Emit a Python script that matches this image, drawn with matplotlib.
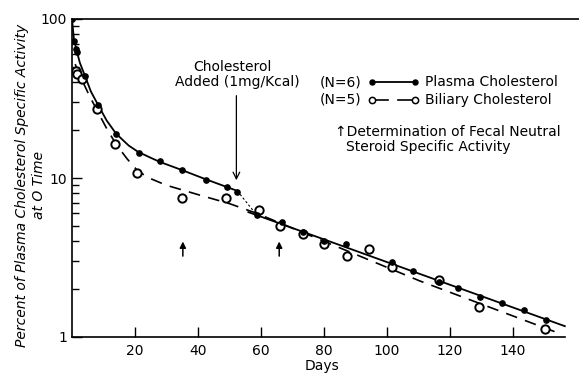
import matplotlib
matplotlib.use("Agg")
import matplotlib.pyplot as plt
import numpy as np

# ---- data ----
plasma_days = [0, 0.6, 1.2, 1.7, 4.1, 8.2, 14, 21.3, 28, 34.8, 42.4, 49.1, 52.5,
               58.8, 66.6, 73.4, 80.1, 86.9, 101.5, 108.4, 116.6, 122.6, 129.5,
               136.7, 143.6, 150.4]
plasma_vals = [100, 73, 65, 62, 44, 28.8, 18.8, 14.4, 12.8, 11.3, 9.7, 8.8, 8.2,
               5.85, 5.3, 4.55, 4.04, 3.83, 2.98, 2.6, 2.23, 2.04, 1.78,
               1.63, 1.48, 1.27]

biliary_days = [1.3, 1.7, 3.1, 7.8, 13.7, 20.7, 35, 48.9, 59.4, 66.2, 73.4, 80,
                87.4, 94.4, 101.5, 116.6, 129.3, 150.2]
biliary_vals = [47, 45, 42, 27.2, 16.4, 10.8, 7.5, 7.45, 6.3, 5.0, 4.43, 3.83,
                3.25, 3.58, 2.74, 2.28, 1.55, 1.12]

# fitted curves
plasma_fit1_days = [0, 0.6, 1.5, 2.5, 4, 6, 8, 11, 14, 18, 21, 25, 28, 35, 42, 49, 52.5]
plasma_fit1_vals = [100, 75, 63, 53, 44.5, 35, 29.5, 23, 19, 16, 14.6, 13.4, 12.6,
                    11.2, 9.9, 8.8, 8.3]
plasma_link_days = [52.5, 58.5]
plasma_link_vals = [8.3, 5.9]
plasma_fit2_days = [56, 156.5]
plasma_fit2_vals = [6.1, 1.17]

biliary_fit_days = [1, 3, 5.5, 8, 11, 14, 17.5, 21, 25, 30, 40.6, 50, 58.6, 80, 110.5, 153.3]
biliary_fit_vals = [52, 42, 33, 26.5, 20.5, 16.3, 13.2, 11, 9.9, 9.0, 7.8, 6.9, 6.0,
                    4.0, 2.25, 1.08]

fecal_arrow_days = [35.2, 65.8]
added_day = 52.2

x_ticks = [20, 40, 60, 80, 100, 120, 140]
y_ticks = [1, 10, 100]
y_ticklabels = ["1", "10", "100"]

plt.rcParams['font.family'] = ['DejaVu Sans']
FS = 10

fig = plt.figure(figsize=(5.79, 3.76), dpi=100)
ax = fig.add_axes([72/579, 1-337/376, 1-72/579, (337-19)/376])
ax.set_yscale('log')
ax.set_xlim(0, 161)
ax.set_ylim(1, 100)

# curves
ax.plot(plasma_fit1_days, plasma_fit1_vals, color='black', lw=1.3)
ax.plot(plasma_link_days, plasma_link_vals, color='black', lw=0.8, ls=(0, (2, 2)))
ax.plot(plasma_fit2_days, plasma_fit2_vals, color='black', lw=1.3)
ax.plot(biliary_fit_days, biliary_fit_vals, color='black', lw=1.2, ls=(0, (7, 5)))

# points
ax.plot(plasma_days, plasma_vals, 'o', color='black', ms=3.8, zorder=4)
ax.plot(biliary_days, biliary_vals, 'o', mfc='white', mec='black', mew=1.4, ms=6, zorder=3)

# arrows
ax.annotate('', xy=(added_day, 9.3), xytext=(added_day, 34.3),
            arrowprops=dict(arrowstyle='->', color='black', lw=0.9, mutation_scale=12))
for d in fecal_arrow_days:
    ax.annotate('', xy=(d, 4.15), xytext=(d, 3.1),
                arrowprops=dict(arrowstyle='-|>', color='black', lw=1.1,
                                mutation_scale=9))

ax.text(51, 50, "Cholesterol", ha='center', va='center', fontsize=FS)
ax.text(52.4, 40, "Added (1mg/Kcal)", ha='center', va='center', fontsize=FS)

# legend (hand drawn)
ax.text(78.7, 40, "(N=6)", ha='left', va='center', fontsize=FS)
ax.plot([95.2, 108.9], [40, 40], '-', color='black', lw=1.3)
ax.plot([95.2, 108.9], [40, 40], 'o', color='black', ms=3.6)
ax.text(112, 40, "Plasma Cholesterol", ha='left', va='center', fontsize=FS)
ax.text(78.7, 31, "(N=5)", ha='left', va='center', fontsize=FS)
ax.plot([95.2, 100.5], [31, 31], '-', color='black', lw=1.2)
ax.plot([103.5, 108.9], [31, 31], '-', color='black', lw=1.2)
ax.plot([95.2, 108.9], [31, 31], 'o', mfc='white', mec='black', mew=1.1, ms=4.5)
ax.text(112, 31, "Biliary Cholesterol", ha='left', va='center', fontsize=FS)
ax.text(83.5, 19.5, "\u2191Determination of Fecal Neutral", ha='left', va='center', fontsize=FS)
ax.text(87, 15.7, "Steroid Specific Activity", ha='left', va='center', fontsize=FS)

# axes style
ax.spines['right'].set_visible(False)
ax.spines['bottom'].set_bounds(0, 156.5)
for s in ['left', 'bottom', 'top']:
    ax.spines[s].set_linewidth(1.2)
ax.set_xticks(x_ticks)
ax.set_xticklabels([str(t) for t in x_ticks], fontsize=FS)
ax.set_yticks(y_ticks)
ax.set_yticklabels(y_ticklabels, fontsize=FS)
ax.tick_params(axis='both', which='major', direction='in', length=7, width=1,
               top=False, right=False)
ax.tick_params(axis='y', which='minor', direction='in', length=5, width=1)
ax.tick_params(axis='x', pad=5)

fig.text(322/579, 1-366/376, "Days", ha='center', va='center', fontsize=FS)
fig.text(22/579, 1-185/376, "Percent of Plasma Cholesterol Specific Activity",
         rotation=90, ha='center', va='center', fontsize=FS, style='italic')
fig.text(39/579, 1-185/376, "at O Time", rotation=90, ha='center', va='center',
         fontsize=FS, style='italic')

fig.savefig("out.png", dpi=100)
